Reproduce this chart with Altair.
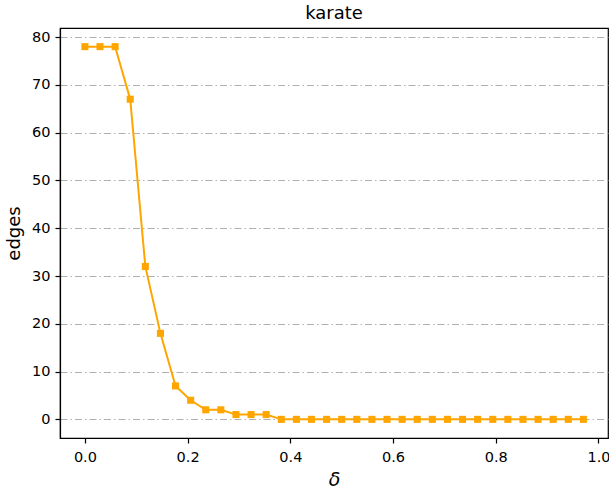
import altair as alt
import pandas as pd

n_points = 34
delta = [i / 34 for i in range(n_points)]
edges = [78, 78, 78, 67, 32, 18, 7, 4, 2, 2, 1, 1, 1] + [0] * 21

df = pd.DataFrame({"delta": delta, "edges": edges})

x = alt.X("delta:Q",
          scale=alt.Scale(domain=[-0.0485, 1.0185], nice=False, zero=False),
          axis=alt.Axis(values=[0.0, 0.2, 0.4, 0.6, 0.8, 1.0], format=".1f",
                        title="δ", grid=False, titleFontStyle="italic",
                        titleFontWeight="normal", titleFontSize=19,
                        titlePadding=7, labelPadding=7))
y = alt.Y("edges:Q",
          scale=alt.Scale(domain=[-3.9, 81.9], nice=False, zero=False),
          axis=alt.Axis(values=list(range(0, 81, 10)), title="edges",
                        grid=True, gridColor="#b0b0b0", gridDash=[7, 3, 1.5, 3],
                        gridWidth=1.2, titleFontWeight="normal", titleFontSize=18,
                        titlePadding=8, labelPadding=5))

line = alt.Chart(df).mark_line(color="#FFA500", strokeWidth=2).encode(x=x, y=y)
pts = alt.Chart(df).mark_point(shape="square", filled=True, size=50,
                               color="#FFA500", opacity=1).encode(x=x, y=y)

chart = (line + pts).properties(
    width=548, height=410,
    title=alt.TitleParams("karate", fontSize=18, fontWeight="normal",
                          font="DejaVu Sans", color="black", offset=5),
    autosize=alt.AutoSizeParams(type="none"),
    padding={"left": 60, "top": 28, "right": 1, "bottom": 52},
).configure(background="white").configure_view(
    stroke="black", strokeWidth=1.2
).configure_axis(
    labelFont="DejaVu Sans", titleFont="DejaVu Sans", labelFontSize=14.5,
    labelColor="black", titleColor="black", domainColor="black",
    tickColor="black", tickSize=5, domainWidth=1.2, tickWidth=1.2,
)

chart.save("out.html", embed_options={"renderer": "svg", "actions": False})
